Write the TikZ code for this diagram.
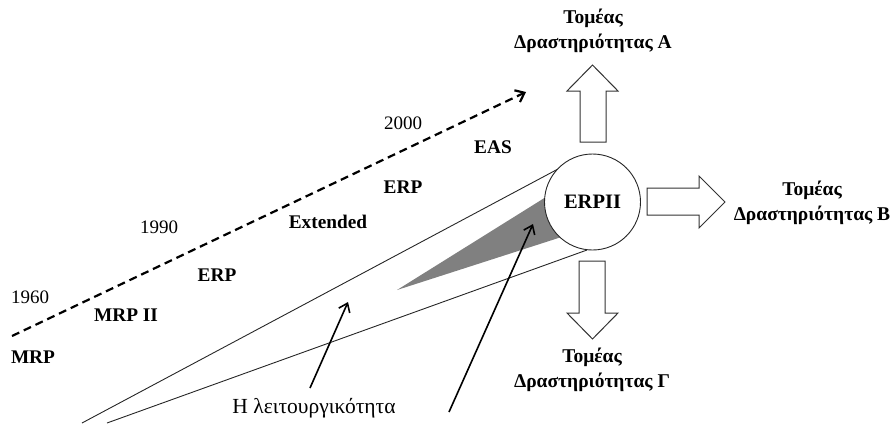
\documentclass[tikz,border=0pt]{standalone}
\usepackage{fontspec}
\setmainfont{Liberation Serif}
\usetikzlibrary{arrows.meta}
\begin{document}
\begin{tikzpicture}[x=1pt,y=-1pt,
  lbl/.style={font=\fontsize{19.3}{24}\selectfont\bfseries, inner sep=0pt},
  yr/.style={font=\fontsize{19}{24}\selectfont, inner sep=0pt},
  sector/.style={font=\fontsize{19.5}{25}\selectfont\bfseries, align=center, inner sep=0pt},
  blockarrow/.style={draw=black!80, line width=1pt, fill=white, line join=miter},
  thinline/.style={draw=black!85, line width=0.9pt},
  pointer/.style={line width=1.6pt, -{Straight Barb[length=8pt,width=12pt]}},
]
\useasboundingbox (0,0) rectangle (893,423);

% gray wedge
\fill[black!50] (397,290) -- (562,187) -- (574,233) -- cycle;

% cone lines
\coordinate (c1) at (82,423);
\coordinate (c2) at (107,423);
\coordinate (t1) at (558,169);
\coordinate (t2) at (587,250);
\draw[thinline] (c1) -- (t1);
\draw[thinline] (c2) -- (t2);

% central circle
\node[draw=black!85, circle, minimum size=96pt, fill=white, line width=0.9pt,
      font=\fontsize{20.5}{24}\selectfont\bfseries, inner sep=0pt] (erp2) at (592.5,202) {ERPII};

% block arrows
\draw[blockarrow] (580,142) -- (580,91) -- (567,91) -- (592.5,65) -- (618,91) -- (606,91) -- (606,142) -- cycle;
\draw[blockarrow] (647,188) -- (699,188) -- (699,176) -- (725,202) -- (699,228) -- (699,215) -- (647,215) -- cycle;
\draw[blockarrow] (579,261) -- (579,313) -- (567,313) -- (592.5,339) -- (618,313) -- (605,313) -- (605,261) -- cycle;

% sector labels
\node[sector] (secA) at (593,31) {Τομέας\\Δραστηριότητας Α};
\node[sector] (secB) at (812,203) {Τομέας\\Δραστηριότητας Β};
\node[sector] (secG) at (592,370) {Τομέας\\Δραστηριότητας Γ};

% timeline
\coordinate (d1) at (12,336);
\coordinate (d2) at (526,92);
\draw[line width=2.2pt, dash pattern=on 8pt off 5pt, -{Straight Barb[length=8pt,width=13pt]}] (d1) -- (d2);

\node[yr] (y1960) at (30,297) {1960};
\node[yr] (y1990) at (159,227) {1990};
\node[yr] (y2000) at (403,123) {2000};
\node[lbl] (mrp) at (33,357) {MRP};
\node[lbl] (mrp2) at (126,315) {MRP II};
\node[lbl] (erp) at (217,275) {ERP};
\node[lbl] (ext) at (328,222) {Extended};
\node[lbl] (erpb) at (403,187) {ERP};
\node[lbl] (eas) at (493,147) {EAS};

% pointers
\node[font=\fontsize{21.5}{24}\selectfont, inner sep=0pt] (func) at (314,408) {Η λειτουργικότητα};
\coordinate (p1s) at (310,388);
\coordinate (p1e) at (348,302);
\coordinate (p2s) at (449,412);
\coordinate (p2e) at (533,224);
\draw[pointer] (p1s) -- (p1e);
\draw[pointer] (p2s) -- (p2e);
\end{tikzpicture}
\end{document}
